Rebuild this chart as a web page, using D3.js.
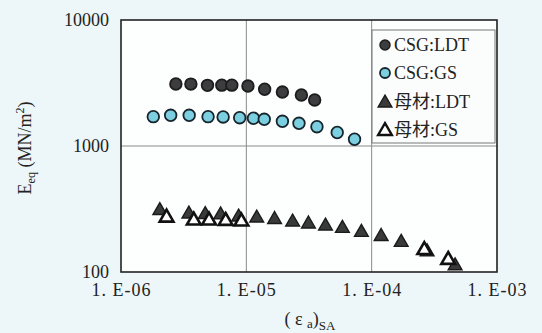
<!DOCTYPE html>
<html>
<head>
<meta charset="utf-8">
<script src="https://cdn.jsdelivr.net/npm/d3@7"></script>
<style>
  html, body { margin: 0; padding: 0; background: #edf6f8; }
  svg { display: block; }
</style>
</head>
<body>
<svg id="chart" width="542" height="333"></svg>
<script>
// Strain amplitude (ε_a)SA vs equivalent modulus E_eq
const xTicks = [1e-6, 1e-5, 1e-4, 1e-3];
const xTickLabels = ["1. E-06", "1. E-05", "1. E-04", "1. E-03"];
const yTicks = [100, 1000, 10000];
const yTickLabels = ["100", "1000", "10000"];

const seriesNames = ["CSG:LDT", "CSG:GS", "母材:LDT", "母材:GS"];

const csgLdtX = [2.74e-6, 3.61e-6, 4.90e-6, 6.37e-6, 7.66e-6, 1.03e-5, 1.40e-5, 1.94e-5, 2.75e-5, 3.51e-5];
const csgLdtY = [3105, 3100, 3030, 3040, 3040, 2990, 2820, 2680, 2540, 2320];

const csgGsX = [1.81e-6, 2.49e-6, 3.50e-6, 4.95e-6, 6.53e-6, 8.85e-6, 1.14e-5, 1.39e-5, 1.94e-5, 2.63e-5, 3.66e-5, 5.31e-5, 7.30e-5];
const csgGsY = [1709, 1753, 1753, 1709, 1700, 1678, 1660, 1629, 1571, 1514, 1423, 1280, 1131];

const baseLdtX = [2.04e-6, 3.48e-6, 4.70e-6, 6.24e-6, 8.68e-6, 1.21e-5, 1.68e-5, 2.34e-5, 3.13e-5, 4.28e-5, 5.84e-5, 8.28e-5, 1.19e-4, 1.72e-4, 2.77e-4, 4.63e-4];
const baseLdtY = [313, 294, 291, 289, 278, 273, 266, 254, 245, 236, 226, 210, 195, 175, 147, 114];

const baseGsX = [2.31e-6, 3.81e-6, 5.04e-6, 6.84e-6, 9.13e-6, 2.63e-4, 4.08e-4];
const baseGsY = [275, 261, 261, 259, 256, 152, 127];

const svg = d3.select("#chart");
const margin = { left: 121, right: 45, top: 20, bottom: 61 };
const W = 542, H = 333;

const x = d3.scaleLog().domain([1e-6, 1e-3]).range([margin.left, W - margin.right]);
const y = d3.scaleLog().domain([100, 10000]).range([H - margin.bottom, margin.top]);

const serif = "Liberation Serif, Times New Roman, DejaVu Serif, serif";
const jpFont = "Liberation Serif, Noto Sans CJK JP, serif";

// plot background
svg.append("rect")
  .attr("x", x.range()[0]).attr("y", y.range()[1])
  .attr("width", x.range()[1] - x.range()[0])
  .attr("height", y.range()[0] - y.range()[1])
  .attr("fill", "#fdfefe");

// gridlines
svg.append("g").selectAll("line")
  .data(xTicks.slice(1, -1)).join("line")
  .attr("x1", d => x(d)).attr("x2", d => x(d))
  .attr("y1", y.range()[1]).attr("y2", y.range()[0])
  .attr("stroke", "#8a8a8a").attr("stroke-width", 1);
svg.append("g").selectAll("line")
  .data(yTicks.slice(1, -1)).join("line")
  .attr("y1", d => y(d)).attr("y2", d => y(d))
  .attr("x1", x.range()[0]).attr("x2", x.range()[1])
  .attr("stroke", "#8a8a8a").attr("stroke-width", 1);

// axes
const xAxis = d3.axisBottom(x).tickValues(xTicks).tickSize(0).tickPadding(11)
  .tickFormat((d, i) => xTickLabels[i]);
const gx = svg.append("g").attr("transform", `translate(0,${y.range()[0]})`).call(xAxis);
gx.select(".domain").remove();
gx.attr("font-family", serif).attr("font-size", 18);
gx.selectAll("text").attr("font-family", serif).attr("font-size", 18)
  .attr("fill", "#222").attr("letter-spacing", "1px");

const yAxis = d3.axisLeft(y).tickValues(yTicks).tickSize(0).tickPadding(12)
  .tickFormat((d, i) => yTickLabels[i]);
const gy = svg.append("g").attr("transform", `translate(${x.range()[0]},0)`).call(yAxis);
gy.select(".domain").remove();
gy.attr("font-family", serif).attr("font-size", 18);
gy.selectAll("text").attr("font-family", serif).attr("font-size", 18).attr("fill", "#222");

// frame
svg.append("rect")
  .attr("x", x.range()[0]).attr("y", y.range()[1])
  .attr("width", x.range()[1] - x.range()[0])
  .attr("height", y.range()[0] - y.range()[1])
  .attr("fill", "none").attr("stroke", "#222").attr("stroke-width", 1.6);

// markers
const tri = d3.symbol().type(d3.symbolTriangle).size(82);

function triangles(xs, ys, fill, stroke, sw) {
  svg.append("g").selectAll("path")
    .data(xs.map((v, i) => [v, ys[i]])).join("path")
    .attr("d", tri)
    .attr("transform", d => `translate(${x(d[0])},${y(d[1]) + 1})`)
    .attr("fill", fill).attr("stroke", stroke).attr("stroke-width", sw);
}
function circles(xs, ys, fill, stroke) {
  svg.append("g").selectAll("circle")
    .data(xs.map((v, i) => [v, ys[i]])).join("circle")
    .attr("cx", d => x(d[0])).attr("cy", d => y(d[1])).attr("r", 5.8)
    .attr("fill", fill).attr("stroke", stroke).attr("stroke-width", 1.8);
}

circles(csgLdtX, csgLdtY, "#3d3d3f", "#1c1c1c");
circles(csgGsX, csgGsY, "#7ccfe0", "#16252b");
triangles(baseLdtX, baseLdtY, "#3a3a3a", "#1a1a1a", 1.4);
triangles(baseGsX, baseGsY, "#ffffff", "#111", 2.6);

// legend
const lg = svg.append("g");
lg.append("rect").attr("x", 372).attr("y", 30).attr("width", 123).attr("height", 113)
  .attr("fill", "#fbfdfd").attr("stroke", "#777").attr("stroke-width", 1);
const legY = [45, 73, 102, 130];
seriesNames.forEach((name, i) => {
  const cy = legY[i];
  if (i === 0) lg.append("circle").attr("cx", 385).attr("cy", cy).attr("r", 5).attr("fill", "#3d3d3f").attr("stroke", "#1c1c1c").attr("stroke-width", 1.5);
  if (i === 1) lg.append("circle").attr("cx", 385).attr("cy", cy).attr("r", 5).attr("fill", "#7ccfe0").attr("stroke", "#16252b").attr("stroke-width", 1.8);
  if (i === 2) lg.append("path").attr("d", tri).attr("transform", `translate(385,${cy + 1})`).attr("fill", "#3a3a3a").attr("stroke", "#1a1a1a").attr("stroke-width", 1.4);
  if (i === 3) lg.append("path").attr("d", tri).attr("transform", `translate(385,${cy + 1})`).attr("fill", "#fff").attr("stroke", "#111").attr("stroke-width", 2.4);
  lg.append("text").attr("x", 394).attr("y", cy + 6)
    .attr("font-family", jpFont).attr("font-size", 18).attr("fill", "#222")
    .text(name);
});

// axis titles
const xt = svg.append("text").attr("x", 310).attr("y", 325)
  .attr("text-anchor", "middle").attr("font-family", serif).attr("font-size", 18).attr("fill", "#222");
xt.append("tspan").text("( ε ");
xt.append("tspan").attr("font-size", 13).attr("dy", 3).text("a");
xt.append("tspan").attr("dy", -3).text(")");
xt.append("tspan").attr("font-size", 13).attr("dy", 5).text("SA");

const yt = svg.append("text").attr("transform", "translate(31,148) rotate(-90)")
  .attr("text-anchor", "middle").attr("font-family", serif).attr("font-size", 18).attr("fill", "#222");
yt.append("tspan").text("E");
yt.append("tspan").attr("font-size", 12).attr("dy", 4).text("eq");
yt.append("tspan").attr("dy", -4).text(" (MN/m");
yt.append("tspan").attr("font-size", 12).attr("dy", -7).text("2");
yt.append("tspan").attr("dy", 7).text(")");
</script>
</body>
</html>
